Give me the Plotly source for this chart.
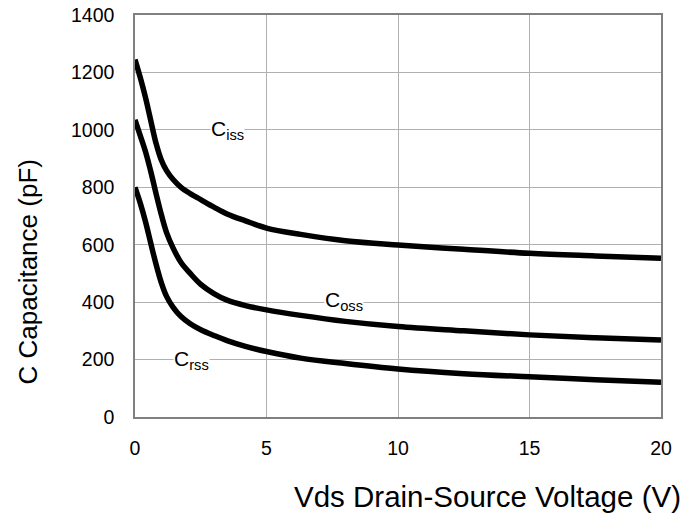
import plotly.graph_objects as go

vds = [0, 0.2, 0.4, 0.6, 0.8, 1.0, 1.2, 1.45, 1.75, 2.1, 2.5, 3.0, 3.5, 4.2, 5.0,
       6.3, 8.0, 10.0, 12.5, 15.0, 17.5, 20.0]
ciss = [1245, 1182, 1112, 1032, 953, 895, 858, 827, 800, 778, 757, 731, 707, 683, 658,
        636, 614, 599, 584, 570, 561, 553]
coss = [1035, 980, 924, 855, 778, 705, 642, 588, 538, 500, 462, 430, 407, 388, 373,
        354, 333, 315, 300, 286, 276, 268]
crss = [800, 745, 680, 605, 532, 468, 420, 382, 350, 325, 304, 284, 266, 246, 228,
        205, 186, 167, 151, 140, 130, 121]

labels = [("C<sub>iss</sub>", 3.5, 1000), ("C<sub>oss</sub>", 7.95, 405), ("C<sub>rss</sub>", 2.15, 200)]

x_ticks = [0, 5, 10, 15, 20]
y_ticks = [0, 200, 400, 600, 800, 1000, 1200, 1400]

FONT = "Liberation Sans, Arial"

fig = go.Figure()
for ys in (ciss, coss, crss):
    fig.add_trace(go.Scatter(x=vds, y=ys, mode="lines",
                             line=dict(color="black", width=5.5, shape="spline", smoothing=1.0),
                             showlegend=False, hoverinfo="skip"))

for txt, xv, yv in labels:
    fig.add_annotation(x=xv, y=yv, text=txt, showarrow=False,
                       font=dict(family=FONT, size=21, color="black"),
                       bgcolor="white", borderpad=0)

fig.add_annotation(xref="paper", yref="paper", x=1.042, y=-0.199, xanchor="right", yanchor="middle",
                   text="Vds Drain-Source Voltage (V)", showarrow=False,
                   font=dict(family=FONT, size=29.5, color="black"))
fig.add_annotation(xref="paper", yref="paper", x=-0.203, y=0.36, xanchor="center", yanchor="middle",
                   text="C Capacitance (pF)", textangle=-90, showarrow=False,
                   font=dict(family=FONT, size=26, color="black"))

axis_common = dict(showgrid=True, gridcolor="#b0b0b0", gridwidth=1,
                   showline=True, linecolor="#808080", linewidth=1.5, mirror=True,
                   zeroline=False, ticks="", automargin=False, ticklabeloverflow="allow",
                   tickfont=dict(family=FONT, size=19.5, color="black"))

fig.update_xaxes(range=[0, 20], tickvals=x_ticks, ticktext=[str(v) for v in x_ticks],
                 ticklabelstandoff=13, **axis_common)
fig.update_yaxes(range=[0, 1400], tickvals=y_ticks, ticktext=[str(v) for v in y_ticks],
                 ticklabelstandoff=15, **axis_common)

fig.update_layout(width=690, height=521, margin=dict(l=127, r=37, t=7, b=112),
                  paper_bgcolor="white", plot_bgcolor="white")

fig.write_html("out.html")
